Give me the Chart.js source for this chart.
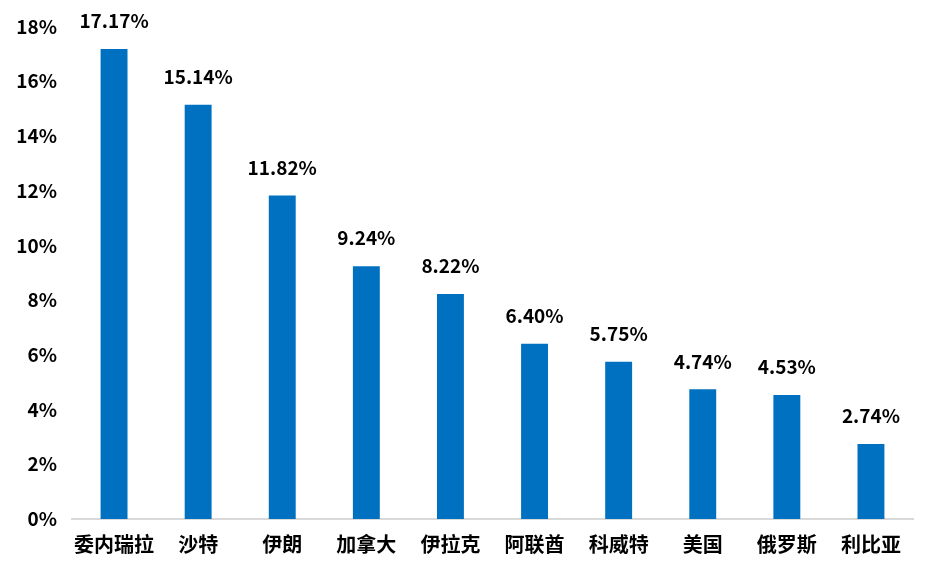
<!DOCTYPE html>
<html>
<head>
<meta charset="utf-8">
<script src="https://cdn.jsdelivr.net/npm/chart.js@4.4.1/dist/chart.umd.min.js"></script>
<style>
    html, body { margin: 0; padding: 0; background: #fff; }
    #wrap { width: 931px; height: 579px; }
</style>
</head>
<body>
<div id="wrap"><canvas id="chart"></canvas></div>
<script>
const countries = ["委内瑞拉", "沙特", "伊朗", "加拿大", "伊拉克", "阿联酋", "科威特", "美国", "俄罗斯", "利比亚"];
const shares = [17.17, 15.14, 11.82, 9.24, 8.22, 6.40, 5.75, 4.74, 4.53, 2.74];

const fontFamily = '"Noto Sans CJK SC", "Noto Sans", sans-serif';

// draw the value above each bar
const valueLabels = {
    id: "valueLabels",
    afterDatasetsDraw(chart) {
        const ctx = chart.ctx;
        const meta = chart.getDatasetMeta(0);
        ctx.save();
        ctx.font = "bold 19px " + fontFamily;
        ctx.fillStyle = "#000";
        ctx.textAlign = "center";
        ctx.textBaseline = "middle";
        meta.data.forEach((bar, i) => {
            ctx.fillText(shares[i].toFixed(2) + "%", bar.x, bar.y - 28);
        });
        ctx.restore();
    }
};

new Chart(document.getElementById("chart"), {
    type: "bar",
    data: {
        labels: countries,
        datasets: [{
            data: shares,
            backgroundColor: "#0070C0",
            barPercentage: 0.32,
            categoryPercentage: 1
        }]
    },
    options: {
        responsive: true,
        maintainAspectRatio: false,
        animation: false,
        layout: { padding: { top: 21, right: 18, left: 0, bottom: 0 } },
        plugins: {
            legend: { display: false },
            tooltip: { enabled: false }
        },
        scales: {
            x: {
                grid: { display: false, drawTicks: false },
                border: { color: "#d9d9d9", width: 2 },
                ticks: {
                    color: "#000",
                    font: { family: fontFamily, size: 20, weight: "bold" },
                    padding: 13,
                    maxRotation: 0
                },
                afterFit(scale) { scale.height = 60; }
            },
            y: {
                min: 0,
                max: 18,
                grid: { display: false, drawTicks: false },
                border: { display: false },
                ticks: {
                    stepSize: 2,
                    color: "#000",
                    font: { family: fontFamily, size: 19, weight: "bold" },
                    padding: 15,
                    callback: v => v + "%"
                },
                afterFit(scale) { scale.width = 72; }
            }
        }
    },
    plugins: [valueLabels]
});
</script>
</body>
</html>
